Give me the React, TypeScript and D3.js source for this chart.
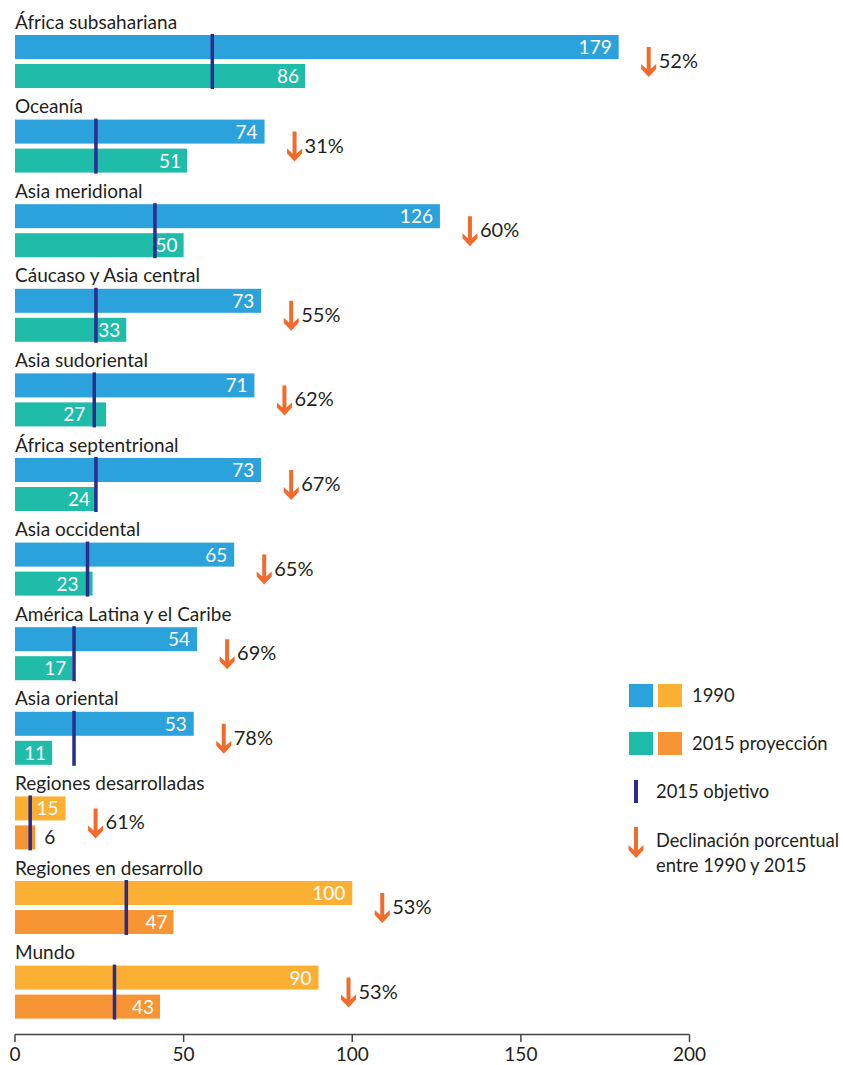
import React from "react";
import * as d3 from "d3";

const regions = [
  "África subsahariana",
  "Oceanía",
  "Asia meridional",
  "Cáucaso y Asia central",
  "Asia sudoriental",
  "África septentrional",
  "Asia occidental",
  "América Latina y el Caribe",
  "Asia oriental",
  "Regiones desarrolladas",
  "Regiones en desarrollo",
  "Mundo",
];
const values1990 = [179, 74, 126, 73, 71, 73, 65, 54, 53, 15, 100, 90];
const values2015 = [86, 51, 50, 33, 27, 24, 23, 17, 11, 6, 47, 43];
const target2015 = [58.5, 24, 41.5, 24, 23.5, 24, 21.5, 17.5, 17.5, 4.5, 33, 29.5];
const declinePct = [52, 31, 60, 55, 62, 67, 65, 69, 78, 61, 53, 53];
const aggregateFlags = [false, false, false, false, false, false, false, false, false, true, true, true];
const xTicks = [0, 50, 100, 150, 200];

const C = {
  blue: "#2ca2dd",
  teal: "#20bcaa",
  yellow: "#fbb034",
  orange: "#f79433",
  navy: "#2b2d8d",
  arrow: "#f26b2d",
  text: "#231f20",
};

const FONT = "Lato, 'Open Sans', sans-serif";
const FS = 19;
const LFS = 18.4;
const digitW = FS * 0.55;

function arrowPath(cx: number, y0: number, y1: number) {
  const s = 2;
  const h = 7.5;
  return `M${cx - s},${y0} L${cx + s},${y0} L${cx + s},${y1 - 8} L${cx + h},${y1 - 13} L${cx + h},${y1 - 8} L${cx},${y1} L${cx - h},${y1 - 8} L${cx - h},${y1 - 13} L${cx - s},${y1 - 8} Z`;
}

export default function App() {
  const W = 843;
  const H = 1065;
  const x = d3.scaleLinear().domain([0, 200]).range([15, 689.5]);
  const step = 84.6;
  const barH = 24;

  return (
    <svg
      width={W}
      height={H}
      style={{ position: "absolute", left: 0, top: 0, display: "block", background: "#fff" }}
      fontFamily={FONT}
    >
      {regions.map((name, i) => {
        const off = i * step;
        const agg = aggregateFlags[i];
        const c1 = agg ? C.yellow : C.blue;
        const c2 = agg ? C.orange : C.teal;
        const v1 = values1990[i];
        const v2 = values2015[i];
        const w2 = x(v2) - x(0);
        const y1 = 35 + off;
        const y2 = 64 + off;
        const ax = x(v1) + 30;
        const tx = x(target2015[i]);
        const inside2 = w2 > 26;
        const lw = String(v2).length * digitW;
        let r2 = x(v2) - 6;
        if (inside2 && r2 - lw < tx + 1.5 && r2 > tx - 1.5) r2 = tx - 9;
        return (
          <g key={name}>
            <text x={15} y={28.5 + off} fontSize={FS} fill={C.text}>
              {name}
            </text>
            <rect x={x(0)} y={y1} width={x(v1) - x(0)} height={barH} fill={c1} />
            <rect x={x(0)} y={y2} width={w2} height={barH} fill={c2} />
            <text x={x(v1) - 7} y={y1 + barH / 2 + 7} fontSize={FS} fill="#fff" textAnchor="end">
              {v1}
            </text>
            <text
              x={inside2 ? r2 : x(v2) + 9}
              y={y2 + barH / 2 + 7}
              fontSize={FS}
              fill={inside2 ? "#fff" : C.text}
              textAnchor={inside2 ? "end" : "start"}
            >
              {v2}
            </text>
            <rect x={tx - 1.75} y={34 + off} width={3.5} height={55} fill={C.navy} />
            <path d={arrowPath(ax, 47 + off, 77 + off)} fill={C.arrow} />
            <text x={ax + 10} y={68 + off} fontSize={20} fill={C.text}>
              {declinePct[i]}%
            </text>
          </g>
        );
      })}

      <g>
        <line x1={x(0)} x2={x(200)} y1={1034.5} y2={1034.5} stroke="#444" strokeWidth={1.5} />
        {xTicks.map((t) => (
          <g key={t}>
            <line x1={x(t)} x2={x(t)} y1={1034.5} y2={1042} stroke="#444" strokeWidth={1.5} />
            <text x={x(t)} y={1061} fontSize={FS} textAnchor="middle" fill={C.text}>
              {t}
            </text>
          </g>
        ))}
      </g>

      <g>
        <rect x={629} y={684} width={24} height={23} fill={C.blue} />
        <rect x={658} y={684} width={24} height={23} fill={C.yellow} />
        <text x={692} y={702} fontSize={LFS} fill={C.text}>1990</text>
        <rect x={629} y={732} width={24} height={23} fill={C.teal} />
        <rect x={658} y={732} width={24} height={23} fill={C.orange} />
        <text x={692} y={750} fontSize={LFS} fill={C.text}>2015 proyección</text>
        <rect x={634} y={780} width={4} height={23} fill={C.navy} />
        <text x={656} y={798} fontSize={LFS} fill={C.text}>2015 objetivo</text>
        <path d={arrowPath(636, 827, 858)} fill={C.arrow} />
        <text x={656} y={847} fontSize={LFS} fill={C.text} textLength={183} lengthAdjust="spacingAndGlyphs">
          Declinación porcentual
        </text>
        <text x={656} y={872} fontSize={LFS} fill={C.text}>entre 1990 y 2015</text>
      </g>
    </svg>
  );
}
